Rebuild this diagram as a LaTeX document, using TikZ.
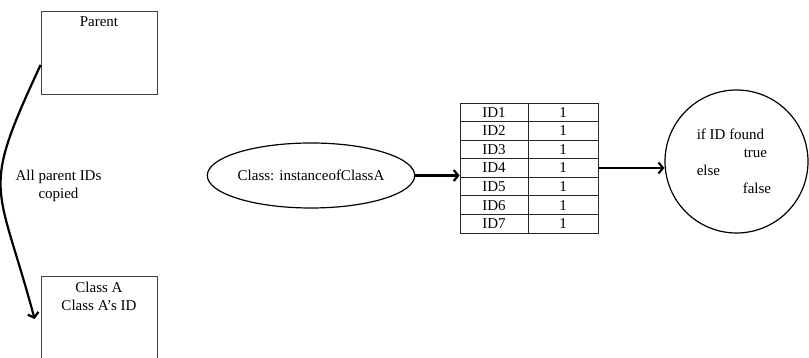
\documentclass[tikz,border=0pt]{standalone}
\usepackage{fontspec}
\setmainfont{Liberation Serif}
\usepackage{tikz}
\usetikzlibrary{arrows.meta}
\usetikzlibrary{positioning}
\usetikzlibrary{shapes.geometric}

\begin{document}
\begin{tikzpicture}[-,>={Straight Barb[length=4.5pt,width=11pt]},x=1pt,y=1pt,font=\fontsize{15}{18}\selectfont,
    class box/.style={rectangle,draw=black!75,line width=0.8pt,minimum width=116,minimum height=83,inner sep=0},
    cell/.style={rectangle,draw=black!85,line width=0.8pt,minimum height=18.57,inner sep=0},
    link/.style={->,line width=2.2pt}]
      \useasboundingbox (0,0) rectangle (809,358);

      \node [class box, label={[anchor=north,yshift=-3pt]north:Parent}] (parent) at (99,305.5) {};
      \node [class box, minimum height=86, label={[anchor=north,yshift=-3pt,align=center]north:Class A\\Class A's ID}] (classa) at (99,39) {};

      \draw[link] (parent.192) to[out=245,in=105,looseness=1.45] ([xshift=-6pt]classa.west);
      \node [align=center] (copied) at (58.5,172.5) {All parent IDs\\copied};

      \node [ellipse,draw,line width=1.2pt,minimum width=194,minimum height=65,inner sep=0] (instance) at (311,182.5) {Class: instanceofClassA};

      % ID table
      \foreach \i in {1, ..., 7} {
        \node [cell, minimum width=68] (id\i) at (494,{255-18.57*(\i-0.5)}) {ID\i};
        \node [cell, minimum width=70] (val\i) at (563,{255-18.57*(\i-0.5)}) {1};
      }

      \node [circle,draw,line width=1.2pt,minimum size=143,align=left,inner sep=0] (check) at (736.5,196.5) {if ID found\hspace*{12pt}\\\hspace{47pt}true\\else\\\hspace{46pt}false};

      \draw[link] (instance.east) -- (instance.east -| id4.west);
      \draw[link] (val4.east) -- (val4.east -| check.west);
    \end{tikzpicture}
\end{document}
